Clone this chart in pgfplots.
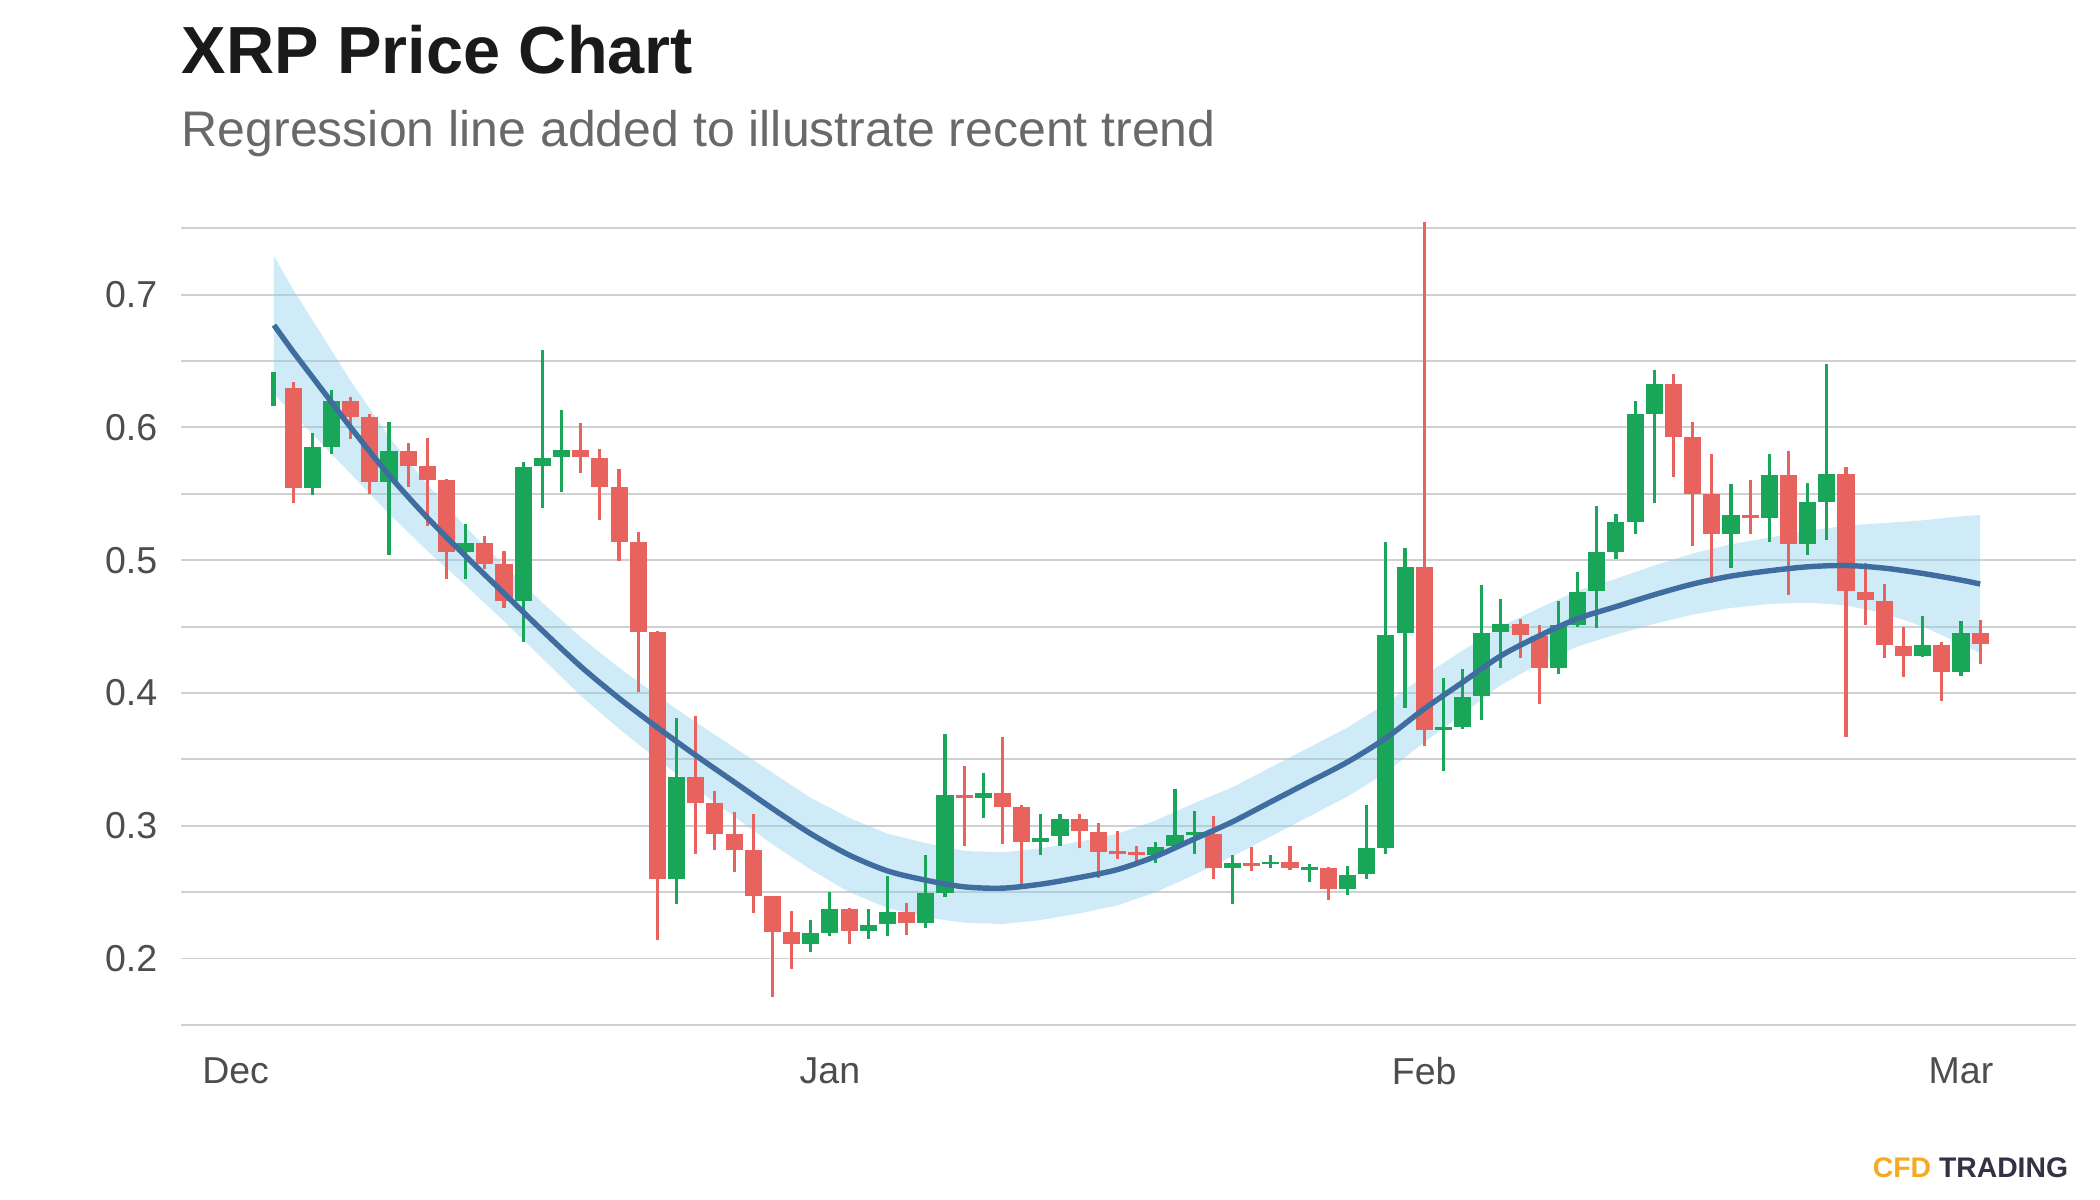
\documentclass[border=0pt]{standalone}
\usepackage{pgfplots}
\pgfplotsset{compat=1.18}
\usepackage{pgfplotstable}
\usepgfplotslibrary{fillbetween}
\usepackage{fontspec}
\setmainfont{Liberation Sans}
\definecolor{upc}{RGB}{26,166,88}
\definecolor{downc}{RGB}{232,98,94}
\definecolor{gridc}{RGB}{208,208,208}
\definecolor{tickc}{RGB}{77,77,77}
\definecolor{titlec}{RGB}{26,26,26}
\definecolor{subc}{RGB}{105,105,105}
\definecolor{bandc}{RGB}{135,206,235}
\definecolor{linec}{RGB}{63,109,160}
\definecolor{cfdorange}{RGB}{245,170,35}
\definecolor{cfdnavy}{RGB}{50,50,68}

% first (partial) candle
\pgfplotstableread{
d o h l c
2 0.617 0.642 0.616 0.642
}\firstT

% rising candles
\pgfplotstableread{
d o h l c
4 0.554 0.596 0.549 0.585
5 0.585 0.628 0.580 0.620
8 0.559 0.604 0.504 0.582
12 0.506 0.527 0.486 0.513
15 0.469 0.574 0.438 0.570
16 0.571 0.658 0.539 0.577
17 0.578 0.613 0.551 0.583
23 0.260 0.381 0.241 0.337
30 0.211 0.229 0.205 0.219
31 0.219 0.250 0.217 0.237
33 0.221 0.237 0.215 0.225
34 0.226 0.262 0.217 0.235
36 0.227 0.278 0.223 0.249
37 0.249 0.369 0.246 0.323
39 0.321 0.340 0.306 0.325
42 0.288 0.309 0.278 0.291
43 0.292 0.309 0.285 0.305
48 0.278 0.288 0.272 0.284
49 0.285 0.328 0.284 0.293
50 0.293 0.311 0.279 0.295
52 0.268 0.278 0.241 0.272
54 0.271 0.278 0.268 0.273
56 0.267 0.271 0.258 0.269
58 0.252 0.270 0.248 0.263
59 0.264 0.316 0.260 0.283
60 0.283 0.514 0.279 0.444
61 0.445 0.509 0.389 0.495
63 0.372 0.411 0.341 0.374
64 0.374 0.418 0.373 0.397
65 0.398 0.481 0.380 0.445
66 0.446 0.471 0.419 0.452
69 0.419 0.469 0.414 0.451
70 0.451 0.491 0.450 0.476
71 0.477 0.541 0.449 0.506
72 0.506 0.535 0.501 0.529
73 0.529 0.620 0.520 0.610
74 0.610 0.643 0.543 0.633
78 0.520 0.557 0.494 0.534
80 0.532 0.580 0.514 0.564
82 0.512 0.558 0.504 0.544
83 0.544 0.648 0.515 0.565
88 0.428 0.458 0.427 0.436
90 0.416 0.454 0.413 0.445
}\upT

% falling candles
\pgfplotstableread{
d o h l c
3 0.630 0.634 0.543 0.554
6 0.620 0.623 0.591 0.608
7 0.608 0.610 0.550 0.559
9 0.582 0.588 0.555 0.571
10 0.571 0.592 0.526 0.560
11 0.560 0.561 0.486 0.506
13 0.513 0.518 0.493 0.497
14 0.497 0.507 0.464 0.469
18 0.583 0.603 0.566 0.578
19 0.577 0.584 0.530 0.555
20 0.555 0.569 0.499 0.514
21 0.514 0.521 0.401 0.446
22 0.446 0.447 0.214 0.260
24 0.337 0.383 0.279 0.317
25 0.317 0.326 0.282 0.294
26 0.294 0.310 0.265 0.282
27 0.282 0.309 0.234 0.247
28 0.247 0.247 0.171 0.220
29 0.220 0.236 0.192 0.211
32 0.237 0.238 0.211 0.221
35 0.235 0.242 0.218 0.227
38 0.323 0.345 0.285 0.321
40 0.325 0.367 0.286 0.314
41 0.314 0.316 0.256 0.288
44 0.305 0.309 0.283 0.296
45 0.295 0.302 0.261 0.280
46 0.281 0.296 0.275 0.279
47 0.280 0.285 0.272 0.278
51 0.294 0.307 0.260 0.268
53 0.272 0.284 0.266 0.270
55 0.273 0.285 0.267 0.268
57 0.268 0.269 0.244 0.252
62 0.495 0.755 0.360 0.372
67 0.452 0.456 0.426 0.444
68 0.443 0.451 0.392 0.419
75 0.633 0.640 0.563 0.593
76 0.593 0.604 0.511 0.550
77 0.550 0.580 0.483 0.520
79 0.534 0.560 0.520 0.532
81 0.564 0.582 0.474 0.512
84 0.565 0.570 0.367 0.477
85 0.476 0.498 0.451 0.470
86 0.469 0.482 0.426 0.436
87 0.435 0.450 0.412 0.428
89 0.436 0.438 0.394 0.416
91 0.445 0.455 0.422 0.437
}\downT

% regression line (m) and half width of its band (w)
\pgfplotstableread{
d m w
2 0.677 0.052
3 0.657 0.047
4 0.638 0.043
5 0.619 0.039
6 0.600 0.035
8 0.564 0.029
10 0.532 0.025
12 0.503 0.022
14 0.475 0.021
16 0.447 0.021
18 0.420 0.022
20 0.396 0.023
22 0.374 0.024
24 0.353 0.025
26 0.333 0.026
28 0.313 0.027
30 0.294 0.027
32 0.278 0.028
34 0.266 0.028
36 0.259 0.028
38 0.254 0.027
40 0.253 0.027
42 0.256 0.027
44 0.261 0.027
46 0.267 0.027
48 0.277 0.027
50 0.290 0.027
52 0.303 0.026
54 0.318 0.026
56 0.333 0.026
58 0.348 0.026
60 0.366 0.026
62 0.388 0.025
64 0.408 0.024
66 0.428 0.022
68 0.443 0.021
70 0.456 0.021
72 0.465 0.021
74 0.474 0.022
76 0.482 0.023
78 0.488 0.024
80 0.492 0.025
82 0.495 0.027
84 0.496 0.030
86 0.494 0.034
88 0.490 0.040
90 0.485 0.048
91 0.482 0.052
}\bandT

\pgfplotsset{
  candle/.style n args={2}{draw=none, mark=none, forget plot,
    error bars/.cd, y dir=plus, y explicit, error mark=none,
    error bar style={draw=#1, solid, line width=#2}},
}

\begin{document}
\begin{tikzpicture}
\begin{axis}[
  at={(0,0)}, anchor=south west,
  scale only axis, width=454.8pt, height=204.6pt,
  xmin=-2.85, xmax=96, ymin=0.142, ymax=0.784,
  axis line style={draw=none},
  tick style={draw=none},
  major tick length=0pt, minor tick length=0pt,
  xtick={0,31,62,90}, xticklabels={Dec,Jan,Feb,Mar},
  ytick={0.2,0.3,0.4,0.5,0.6,0.7},
  yticklabels={0.2,0.3,0.4,0.5,0.6,0.7},
  minor ytick={0.15,0.25,0.35,0.45,0.55,0.65,0.75},
  ymajorgrids, yminorgrids,
  major grid style={draw=gridc, line width=0.45pt},
  minor grid style={draw=gridc, line width=0.45pt},
  /pgf/number format/assume math mode=true,
  ticklabel style={font=\fontsize{9}{10}\selectfont, text=tickc, inner sep=0pt},
  yticklabel style={anchor=east, xshift=-5.5pt},
  xticklabel style={anchor=north, yshift=-5pt},
]
% wicks
\addplot[candle={upc}{0.75pt}]
  table[x=d, y=l, y error expr=\thisrow{h}-\thisrow{l}] {\upT};
\addplot[candle={downc}{0.75pt}]
  table[x=d, y=l, y error expr=\thisrow{h}-\thisrow{l}] {\downT};
% bodies
\addplot[candle={upc}{4.1pt}]
  table[x=d, y=o, y error expr=\thisrow{c}-\thisrow{o}] {\upT};
\addplot[candle={downc}{4.1pt}]
  table[x=d, y=c, y error expr=\thisrow{o}-\thisrow{c}] {\downT};
\addplot[candle={upc}{1.2pt}]
  table[x=d, y=l, y error expr=\thisrow{h}-\thisrow{l}] {\firstT};
% confidence band
\addplot[name path=bu, draw=none, mark=none, forget plot]
  table[x=d, y expr=\thisrow{m}+\thisrow{w}] {\bandT};
\addplot[name path=bl, draw=none, mark=none, forget plot]
  table[x=d, y expr=\thisrow{m}-\thisrow{w}] {\bandT};
\addplot[fill=bandc, fill opacity=0.4, draw=none, forget plot]
  fill between[of=bu and bl];
% regression line
\addplot[linec, line width=1.3pt, smooth, mark=none, forget plot]
  table[x=d, y=m] {\bandT};
\end{axis}
\node[anchor=base west, inner sep=0pt, text=titlec,
  font=\fontsize{16}{19}\selectfont\bfseries] at (0pt,230.78pt) {XRP Price Chart};
\node[anchor=base west, inner sep=0pt, text=subc,
  font=\fontsize{12}{14}\selectfont] at (0pt,213.26pt)
  {Regression line added to illustrate recent trend};
\node[anchor=base east, inner sep=0pt, font=\fontsize{6.8}{8}\selectfont\bfseries]
  at (453.1pt,-34.18pt) {\textcolor{cfdorange}{CFD} \textcolor{cfdnavy}{TRADING}};
\pgfresetboundingbox
\path[use as bounding box] (-43.44pt,-39.46pt) rectangle (460.56pt,248.54pt);
\end{tikzpicture}
\end{document}
